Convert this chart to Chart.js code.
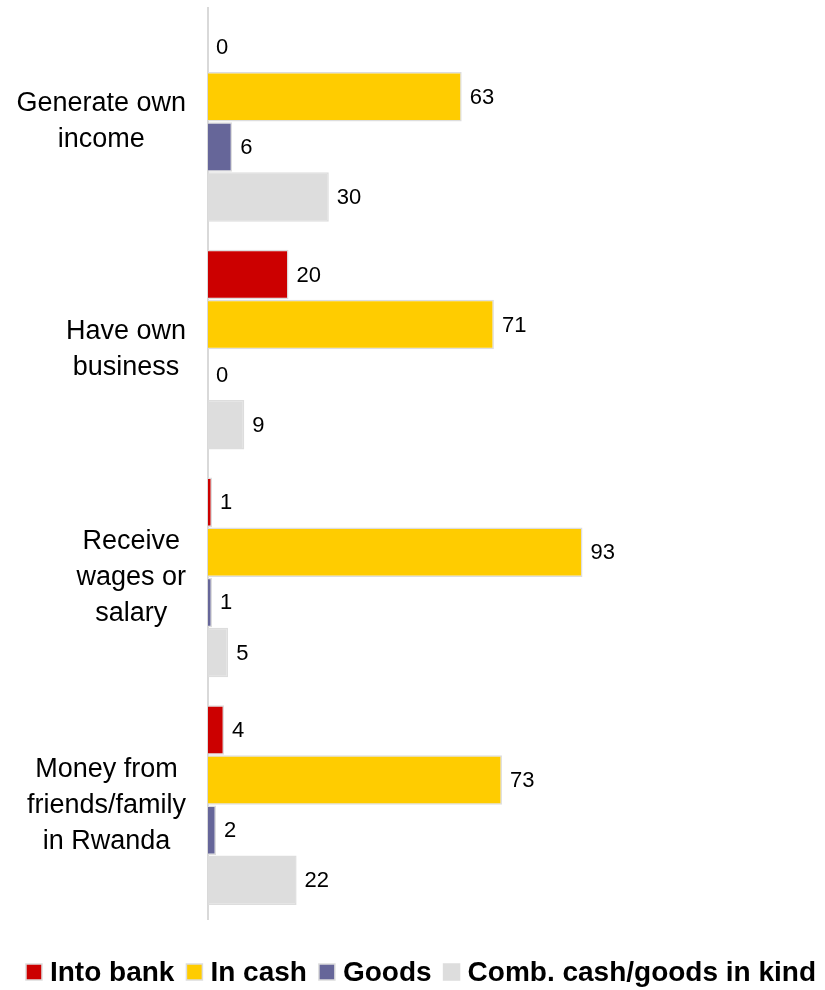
<!DOCTYPE html>
<html>
<head>
<meta charset="utf-8">
<script src="https://cdn.jsdelivr.net/npm/chart.js@4/dist/chart.umd.min.js"></script>
<style>
  html, body { margin: 0; padding: 0; background: #fff; }
  #wrap { width: 825px; height: 990px; }
</style>
</head>
<body>
<div id="wrap"><canvas id="incomeUse"></canvas></div>
<script>
const categories = [
  ['Generate own', 'income'],
  ['Have own', 'business'],
  ['Receive', 'wages or', 'salary'],
  ['Money from', 'friends/family', 'in Rwanda']
];
const intoBank = [0, 20, 1, 4];
const inCash = [63, 71, 93, 73];
const goods = [6, 0, 1, 2];
const combined = [30, 9, 5, 22];

const FONT = '"Liberation Sans", Arial, sans-serif';

// category labels: each block right aligned, lines centred inside the block
const categoryLabels = {
  id: 'categoryLabels',
  afterDraw(chart) {
    const ctx = chart.ctx;
    const y = chart.scales.y;
    const lineH = 36;
    ctx.save();
    ctx.font = '27px ' + FONT;
    ctx.fillStyle = '#000';
    ctx.textAlign = 'center';
    ctx.textBaseline = 'middle';
    categories.forEach((lines, i) => {
      const widest = Math.max(...lines.map(l => ctx.measureText(l).width));
      const cx = 186 - widest / 2;
      const cy = y.getPixelForTick(i);
      lines.forEach((l, j) => {
        ctx.fillText(l, cx, cy + (j - (lines.length - 1) / 2) * lineH);
      });
    });
    ctx.restore();
  }
};

const valueLabels = {
  id: 'valueLabels',
  afterDatasetsDraw(chart) {
    const ctx = chart.ctx;
    ctx.save();
    ctx.font = '22px ' + FONT;
    ctx.fillStyle = '#000';
    ctx.textAlign = 'left';
    ctx.textBaseline = 'middle';
    chart.data.datasets.forEach((ds, i) => {
      chart.getDatasetMeta(i).data.forEach((bar, j) => {
        ctx.fillText(ds.data[j], bar.x + 8, bar.y + 1);
      });
    });
    ctx.restore();
  }
};

// compact legend row at the bottom
const bottomLegend = {
  id: 'bottomLegend',
  afterDraw(chart) {
    const ctx = chart.ctx;
    const cy = 972;
    ctx.save();
    ctx.font = 'bold 28px ' + FONT;
    ctx.textBaseline = 'middle';
    ctx.textAlign = 'left';
    const items = chart.data.datasets.map(ds => ({
      text: ds.label, color: ds.backgroundColor, w: ctx.measureText(ds.label).width
    }));
    const total = items.reduce((s, it) => s + 16 + 8 + it.w, 0) + 12 * (items.length - 1);
    let x = 421 - total / 2;
    items.forEach(it => {
      ctx.fillStyle = it.color;
      ctx.fillRect(x, cy - 8, 16, 16);
      ctx.strokeStyle = '#DDDDDD';
      ctx.lineWidth = 1.5;
      ctx.strokeRect(x, cy - 8, 16, 16);
      ctx.fillStyle = '#000';
      ctx.fillText(it.text, x + 24, cy + 1);
      x += 24 + it.w + 12;
    });
    ctx.restore();
  }
};

new Chart('incomeUse', {
  type: 'bar',
  data: {
    labels: categories,
    datasets: [
      { label: 'Into bank', data: intoBank, backgroundColor: '#CC0000' },
      { label: 'In cash', data: inCash, backgroundColor: '#FFCC00' },
      { label: 'Goods', data: goods, backgroundColor: '#666699' },
      { label: 'Comb. cash/goods in kind', data: combined, backgroundColor: '#DDDDDD' }
    ].map(d => Object.assign(d, {
      borderColor: '#DDDDDD',
      borderWidth: 1.5,
      categoryPercentage: 0.88,
      barPercentage: 0.99
    }))
  },
  options: {
    indexAxis: 'y',
    responsive: true,
    maintainAspectRatio: false,
    animation: false,
    layout: { padding: { top: 8, right: 13, left: 0, bottom: 71 } },
    scales: {
      x: { display: false, min: 0, max: 150 },
      y: {
        grid: { display: false },
        border: { display: true, color: '#D9D9D9', width: 2 },
        ticks: { display: false },
        afterFit(scale) { scale.width = 208; }
      }
    },
    plugins: {
      legend: { display: false },
      tooltip: { enabled: false }
    }
  },
  plugins: [categoryLabels, valueLabels, bottomLegend]
});
</script>
</body>
</html>
